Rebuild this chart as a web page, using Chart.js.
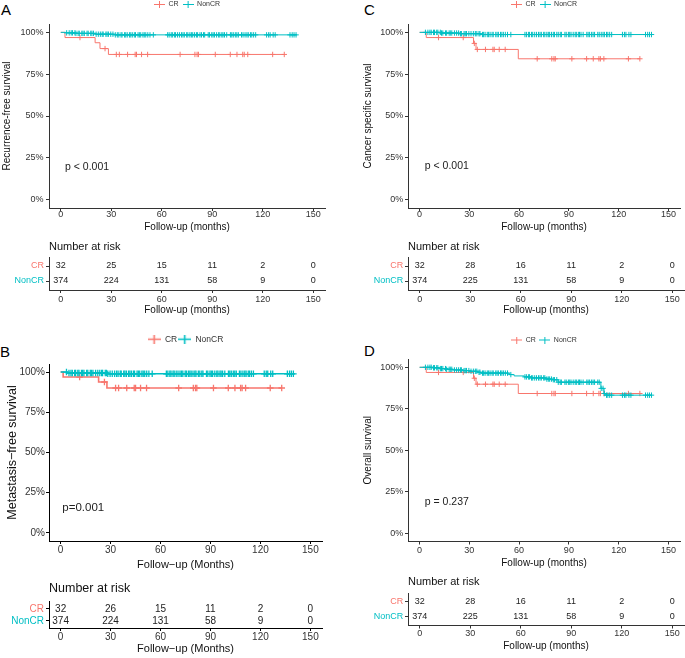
<!DOCTYPE html>
<html><head><meta charset="utf-8">
<script src="https://cdn.jsdelivr.net/npm/chart.js@4.4.1/dist/chart.umd.min.js"></script>
<style>
html,body{margin:0;padding:0;background:#fff;overflow:hidden;}
body{width:685px;height:658px;position:relative;font-family:"Liberation Sans",Arial,sans-serif;}
canvas{position:absolute;}
.tag{position:absolute;font-size:15px;line-height:15px;color:#000;}
</style></head><body>
<div class="tag" style="left:1px;top:2px">A</div>
<div class="tag" style="left:364px;top:1.5px">C</div>
<div class="tag" style="left:0px;top:344px">B</div>
<div class="tag" style="left:364px;top:343px">D</div>
<canvas id="kmA"></canvas><canvas id="tabA"></canvas>
<canvas id="kmC"></canvas><canvas id="tabC"></canvas>
<canvas id="kmB"></canvas><canvas id="tabB"></canvas>
<canvas id="kmD"></canvas><canvas id="tabD"></canvas>
<script>
// ================= DATA =================
const groups = ['CR', 'NonCR'];
const xTicks = [0, 30, 60, 90, 120, 150];
const yTicks = [0, 25, 50, 75, 100];

// Kaplan-Meier steps: [time (months), survival %]; last pair = end of follow-up
const rfsCR    = [[0,100],[2.5,96.9],[20.4,93.8],[23.3,90.3],[28.3,86.8],[132.8,86.8]];
const rfsNonCR = [[0,100],[3,99.7],[9,99.4],[20.8,98.9],[32,98.5],[140.3,98.5]];
const mfsCR    = [[0,100],[1.5,96.9],[22.8,93.8],[27.8,90.1],[132.8,90.1]];
const mfsNonCR = [[0,100],[4,99.4],[28,98.9],[140.6,98.9]];
const cssCR    = [[0,100],[4,96.9],[32.5,93.4],[34,89.8],[59.5,84.2],[132.8,84.2]];
const cssNonCR = [[0,100],[13,99.6],[24,99.2],[37,98.7],[140,98.7]];
const osCR     = [[0,100],[4,96.9],[32.5,93.4],[34,89.8],[59.5,84.2],[132.8,84.2]];
const osNonCR  = [[0,100],[8,99.7],[12,99.2],[16,98.8],[20,98.4],[26,98.0],[30,97.6],[35,97.0],[37,96.5],
                  [54,95.6],[57,94.8],[63,94.2],[67,93.6],[76,92.9],[80,92.5],[83.5,91.0],[109.3,87.3],
                  [111.2,84.2],[112.2,83.2],[140,83.2]];

// censoring times (months)
const censorCR = [11.4, 26.3, 33, 34.8, 39.7, 44.2, 45, 48, 51.6, 70.9, 79.7, 81, 81.8, 91.8,
                  100.7, 104.7, 108.1, 109, 111.1, 125.9, 132.8];
const censorNonCR = [3.5, 5, 6.2, 7, 8.4, 9, 10.3, 11, 12.5, 13.2, 14, 15.6, 16.3, 17.8, 18.5, 19.4, 21,
  22.3, 23.5, 24.6, 25.2, 26.8, 27.5, 28.3, 29.7, 31, 32.4, 33.6, 34.5, 35.8, 36.4, 37.9, 38.6, 39.5,
  40.8, 41.6, 42.5, 43.7, 44.4, 45.9, 46.7, 47.5, 48.8, 49.6, 50.5, 51.7, 53, 55, 63.5, 64.4, 65.6,
  66.3, 67.5, 68.2, 69.4, 70.5, 71.7, 72.6, 73.4, 74.8, 75.5, 76.7, 77.6, 78.4, 79.5, 80.6, 81.3,
  82.7, 83.6, 84.8, 85.5, 87.6, 88.4, 89.7, 90.5, 91.3, 92.6, 93.8, 94.5, 95.7, 96.4, 97.3, 98.6,
  100.8, 101.6, 102.5, 103.7, 104.6, 105.5, 107.4, 108.3, 109.5, 110.6, 111.4, 112.7, 113.5, 114.6,
  115.8, 122.3, 123.5, 124.4, 126.2, 127.4, 136.2, 137.5, 138.6, 139.8];

// number at risk at xTicks
const riskA_CR = [32, 25, 15, 11, 2, 0];
const riskA_NonCR = [374, 224, 131, 58, 9, 0];
const riskB_CR = [32, 26, 15, 11, 2, 0];
const riskB_NonCR = [374, 224, 131, 58, 9, 0];
const riskC_CR = [32, 28, 16, 11, 2, 0];
const riskC_NonCR = [374, 225, 131, 58, 9, 0];
const riskD_CR = [32, 28, 16, 11, 2, 0];
const riskD_NonCR = [374, 225, 131, 58, 9, 0];

const pA = 'p < 0.001', pB = 'p=0.001', pC = 'p < 0.001', pD = 'p = 0.237';

// ================= STYLE / LAYOUT =================
const COLORS = ['#F8766D', '#00BFC4'];
const FONT = '"Liberation Sans", Arial, sans-serif';
Chart.defaults.font.family = FONT;

function survAt(curve, t) {
  let s = curve[0][1];
  for (const [ti, si] of curve) { if (ti <= t) s = si; else break; }
  return s;
}
function legendIcon(color, w, h, lw) {
  const c = document.createElement('canvas');
  c.width = w; c.height = h;
  const g = c.getContext('2d');
  g.strokeStyle = color; g.lineWidth = lw;
  g.beginPath();
  g.moveTo(0, h / 2); g.lineTo(w, h / 2);
  g.moveTo(w / 2, 0); g.lineTo(w / 2, h);
  g.stroke();
  return c;
}
function place(id, g) {
  const c = document.getElementById(id);
  c.width = g.width; c.height = g.height;
  c.style.left = g.left + 'px'; c.style.top = g.top + 'px';
  c.style.width = g.width + 'px'; c.style.height = g.height + 'px';
  return c;
}
const legendGap = {
  id: 'legendGap',
  afterInit(chart, args, opts) {
    const lg = chart.legend;
    if (!lg) return;
    const fit = lg.fit;
    lg.fit = function () { fit.call(this); this.height += (opts.extra || 0); };
  }
};
const pLabel = {
  id: 'pLabel',
  afterDatasetsDraw(chart, args, o) {
    const ctx = chart.ctx;
    ctx.save();
    ctx.font = o.size + 'px ' + FONT;
    ctx.fillStyle = '#222'; ctx.textAlign = 'left'; ctx.textBaseline = 'middle';
    ctx.fillText(o.text, chart.scales.x.getPixelForValue(o.x), chart.scales.y.getPixelForValue(o.y));
    ctx.restore();
  }
};
const riskText = {
  id: 'riskText',
  afterDatasetsDraw(chart, args, o) {
    const ctx = chart.ctx;
    ctx.save();
    ctx.font = o.size + 'px ' + FONT;
    ctx.fillStyle = '#222'; ctx.textAlign = 'center'; ctx.textBaseline = 'middle';
    chart.data.datasets.forEach((ds, i) => {
      chart.getDatasetMeta(i).data.forEach((el, j) => ctx.fillText(String(ds.riskLabels[j]), el.x, el.y));
    });
    ctx.restore();
  }
};

function axisStyle(color) {
  return {
    grid: {display: true, drawOnChartArea: false, drawTicks: true, tickLength: 3, color: color, lineWidth: 1},
    border: {display: true, color: color, width: 1}
  };
}

function drawKM(id, p) {
  const k = p.km;
  const cv = place(id, k);
  const datasets = [];
  [1, 0].forEach(i => {
    const curve = p.curves[i];
    const times = i === 0 ? censorCR : censorNonCR;
    datasets.push({label: groups[i], data: curve.map(([t, s]) => ({x: t, y: s})), showLine: true,
      stepped: 'before', borderColor: COLORS[i], borderWidth: k.lw, pointRadius: 0, fill: false});
    datasets.push({label: groups[i] + ' censored', data: times.map(t => ({x: t, y: survAt(curve, t)})),
      showLine: false, pointStyle: 'cross', pointRadius: k.markR, borderColor: COLORS[i],
      borderWidth: k.markLW, backgroundColor: COLORS[i]});
  });
  new Chart(cv, {
    type: 'scatter',
    data: {datasets},
    plugins: [legendGap, pLabel],
    options: {
      responsive: false, animation: false, events: [],
      layout: {padding: {left: 0, right: k.padRight, top: 0, bottom: 0}},
      plugins: {
        tooltip: {enabled: false},
        legendGap: {extra: k.legendGap},
        pLabel: {text: p.pText, x: p.pPos[0], y: p.pPos[1], size: k.pFont},
        legend: {
          display: true, position: 'top', fullSize: false,
          labels: {
            usePointStyle: true, pointStyleWidth: k.iconW, padding: k.legendPad,
            font: {size: k.legendFont}, color: '#333',
            generateLabels: () => groups.map((g, i) => ({
              text: g, pointStyle: legendIcon(COLORS[i], k.iconW, k.iconH, k.lw), fontColor: '#333',
              fillStyle: COLORS[i], strokeStyle: COLORS[i], lineWidth: 0, hidden: false, datasetIndex: i
            }))
          }
        }
      },
      scales: {
        x: Object.assign({
          type: 'linear', min: -7, max: 157,
          afterBuildTicks: s => { s.ticks = xTicks.map(v => ({value: v})); },
          afterFit: s => { s.height = k.xAxisH; },
          ticks: {color: '#333', font: {size: k.tickFont}, padding: k.xTickPad, maxRotation: 0, autoSkip: false},
          title: {display: true, text: p.xTitle, color: '#111', font: {size: k.xTitleFont}, padding: {top: 0, bottom: 0}}
        }, axisStyle(k.axisColor)),
        y: Object.assign({
          type: 'linear', min: -5, max: 105,
          afterBuildTicks: s => { s.ticks = yTicks.map(v => ({value: v})); },
          afterFit: s => { s.width = k.yAxisW; },
          ticks: {color: '#333', font: {size: k.tickFont}, padding: k.yTickPad, callback: v => v + '%'},
          title: {display: true, text: p.yTitle, color: '#111', font: {size: k.yTitleFont}, padding: {top: k.yTitlePad, bottom: 0}}
        }, axisStyle(k.axisColor))
      }
    }
  });
}

function drawTable(id, p) {
  const t = p.tab;
  const cv = place(id, t);
  const datasets = groups.map((g, i) => ({
    label: g, riskLabels: p.risk[i], pointRadius: 0, showLine: false,
    data: xTicks.map(x => ({x: x, y: i + 1}))
  }));
  new Chart(cv, {
    type: 'scatter',
    data: {datasets},
    plugins: [riskText],
    options: {
      responsive: false, animation: false, events: [],
      layout: {padding: {left: 0, right: t.padRight, top: 0, bottom: 0}},
      plugins: {
        tooltip: {enabled: false}, legend: {display: false},
        riskText: {size: t.numFont},
        title: {display: true, text: 'Number at risk', align: 'start', fullSize: false, color: '#111',
          font: {size: t.titleFont, weight: 'normal'}, padding: {top: 0, bottom: t.titlePadBottom}}
      },
      scales: {
        x: Object.assign({
          type: 'linear', min: -7, max: 157,
          afterBuildTicks: s => { s.ticks = xTicks.map(v => ({value: v})); },
          afterFit: s => { s.height = t.xAxisH; },
          ticks: {color: '#333', font: {size: t.tickFont}, padding: t.xTickPad, maxRotation: 0, autoSkip: false},
          title: {display: true, text: p.xTitle, color: '#111', font: {size: t.xTitleFont}, padding: {top: 0, bottom: 0}}
        }, axisStyle(p.km.axisColor)),
        y: Object.assign({
          type: 'linear', min: 0.4, max: 2.6, reverse: true,
          afterBuildTicks: s => { s.ticks = [1, 2].map(v => ({value: v})); },
          afterFit: s => { s.width = t.yAxisW; },
          ticks: {font: {size: t.tickFont}, padding: t.yTickPad, callback: v => groups[v - 1],
            color: c => COLORS[c.index]}
        }, axisStyle(p.km.axisColor))
      }
    }
  });
}

const smallKM = {lw: 1, markR: 2.7, markLW: 1, tickFont: 9, yTitleFont: 10, xTitleFont: 10, pFont: 10.5,
  legendFont: 7, iconW: 11, iconH: 7, axisColor: '#333'};
const smallTab = {titleFont: 11, numFont: 9, tickFont: 9, xTitleFont: 10, yTickPad: 2};

drawKM('kmA', {curves: [rfsCR, rfsNonCR], yTitle: 'Recurrence-free survival', xTitle: 'Follow-up (months)',
  pText: pA, pPos: [2.5, 19.7],
  km: Object.assign({}, smallKM, {left: 0, top: -3, width: 340, height: 236, yAxisW: 49, padRight: 15,
    xAxisH: 25, legendPad: 4, legendGap: 6, xTickPad: -1.9, yTickPad: 2.5, yTitlePad: 1.5})});
drawTable('tabA', {risk: [riskA_CR, riskA_NonCR], xTitle: 'Follow-up (months)', km: smallKM,
  tab: Object.assign({}, smallTab, {left: 0, top: 240, width: 340, height: 76, yAxisW: 49, padRight: 15,
    titlePadBottom: 3.8, xAxisH: 26, xTickPad: 1.2})});

drawKM('kmC', {curves: [cssCR, cssNonCR], yTitle: 'Cancer specific survival', xTitle: 'Follow-up (months)',
  pText: pC, pPos: [3.1, 20],
  km: Object.assign({}, smallKM, {left: 340, top: -3, width: 345, height: 236, yAxisW: 68, padRight: 1,
    xAxisH: 25, legendPad: 4, legendGap: 6, xTickPad: -1.9, yTickPad: 1.7, yTitlePad: 22.3})});
drawTable('tabC', {risk: [riskC_CR, riskC_NonCR], xTitle: 'Follow-up (months)', km: smallKM,
  tab: Object.assign({}, smallTab, {left: 340, top: 240, width: 345, height: 76, yAxisW: 68, padRight: 1,
    titlePadBottom: 3.8, xAxisH: 26, xTickPad: 1.2, yTickPad: 1.7})});

const bigKM = {lw: 1.6, markR: 3.3, markLW: 1.3, tickFont: 10, yTitleFont: 12.5, xTitleFont: 11, pFont: 11.5,
  legendFont: 8.5, iconW: 13, iconH: 9, axisColor: '#000'};
drawKM('kmB', {curves: [mfsCR, mfsNonCR], yTitle: 'Metastasis\u2212free survival', xTitle: 'Follow\u2212up (Months)',
  pText: pB, pPos: [1, 15.5],
  km: Object.assign({}, bigKM, {left: 0, top: 334, width: 340, height: 238, yAxisW: 49, padRight: 18,
    xAxisH: 31, legendPad: 1, legendGap: 10.5, xTickPad: 0, yTickPad: 1, yTitlePad: 5})});
drawTable('tabB', {risk: [riskB_CR, riskB_NonCR], xTitle: 'Follow\u2212up (Months)', km: bigKM,
  tab: {left: 0, top: 581, width: 340, height: 75, yAxisW: 49, padRight: 18, titleFont: 12.5,
    titlePadBottom: 5.7, xAxisH: 28, numFont: 10, tickFont: 10, xTickPad: 0, yTickPad: 2, xTitleFont: 11}});

drawKM('kmD', {curves: [osCR, osNonCR], yTitle: 'Overall survival', xTitle: 'Follow-up (months)',
  pText: pD, pPos: [3.1, 19],
  km: Object.assign({}, smallKM, {left: 340, top: 333, width: 345, height: 236, yAxisW: 68, padRight: 1,
    xAxisH: 27.5, legendPad: 3.5, legendGap: 5.5, xTickPad: 0.4, yTickPad: 1.7, yTitlePad: 21.8})});
drawTable('tabD', {risk: [riskD_CR, riskD_NonCR], xTitle: 'Follow-up (months)', km: smallKM,
  tab: Object.assign({}, smallTab, {left: 340, top: 575, width: 345, height: 77, yAxisW: 68, padRight: 1,
    titlePadBottom: 4.8, xAxisH: 26.5, xTickPad: 0, yTickPad: 1.7})});
</script>
</body></html>
